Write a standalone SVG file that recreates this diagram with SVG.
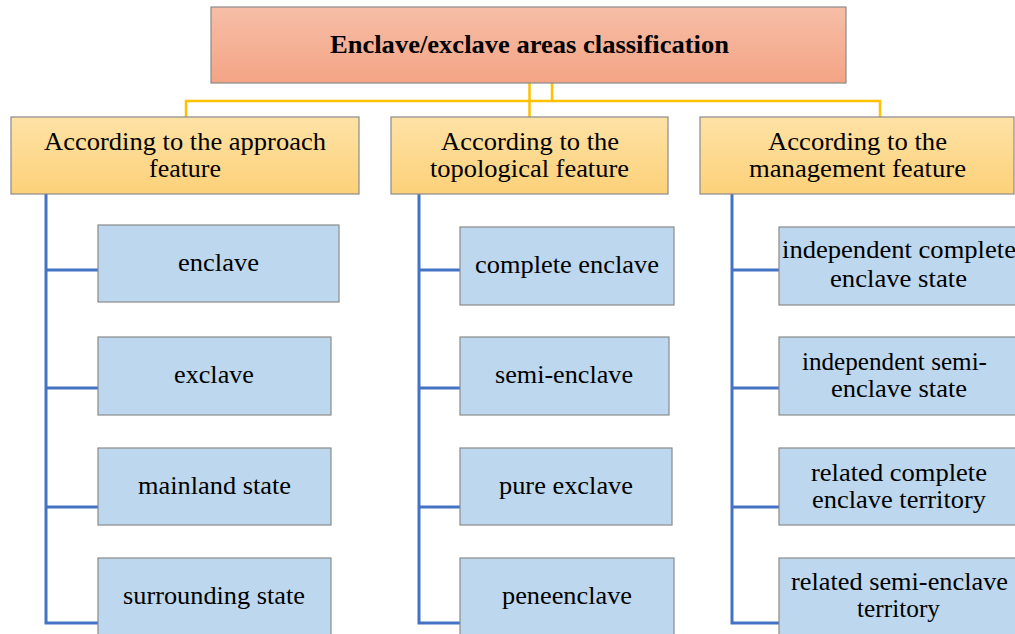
<svg xmlns="http://www.w3.org/2000/svg" width="1015" height="634" viewBox="0 0 1015 634">
<style>
text{font-family:'Liberation Serif','Times New Roman',serif;fill:#000;text-anchor:middle}
.t{font-size:25px;font-weight:bold}
.l2{font-size:25px}
.c{font-size:25px}
.box{stroke:#8a8a8a;stroke-width:1.2}
.child{fill:#bdd7ee}
.yl{fill:none;stroke:#ffc000;stroke-width:2.5}
.bl{fill:none;stroke:#4472c4;stroke-width:3}
</style>
<defs>
<linearGradient id="gT" x1="0" y1="0" x2="0" y2="1"><stop offset="0" stop-color="#f6bea7"/><stop offset="1" stop-color="#f4a485"/></linearGradient>
<linearGradient id="gL" x1="0" y1="0" x2="0" y2="1"><stop offset="0" stop-color="#fee2a6"/><stop offset="1" stop-color="#fcd179"/></linearGradient>
</defs>
<rect width="1015" height="634" fill="#fff"/>
<g id="connectors">
<path class="yl" d="M529.5 83V117M552 83V101M186 117V101H880V117"/>
<path class="bl" d="M46 194V623H98M46 270H98M46 388H98M46 507H98"/>
<path class="bl" d="M419 194V623H460M419 270H460M419 388H460M419 507H460"/>
<path class="bl" d="M732 194V623H779M732 270H779M732 388H779M732 507H779"/>
</g>
<g id="root"><rect class="box" x="211" y="7" width="635" height="76" fill="url(#gT)"/><text class="t" x="529.5" y="53" textLength="399" lengthAdjust="spacingAndGlyphs">Enclave/exclave areas classification</text></g>
<g id="approach"><rect class="box" x="11" y="117" width="348" height="77" fill="url(#gL)"/><text class="l2" x="185" y="150" textLength="282" lengthAdjust="spacingAndGlyphs">According to the approach</text><text class="l2" x="185" y="177" textLength="72" lengthAdjust="spacingAndGlyphs">feature</text></g>
<g id="topological"><rect class="box" x="391" y="117" width="277" height="77" fill="url(#gL)"/><text class="l2" x="530" y="150" textLength="178" lengthAdjust="spacingAndGlyphs">According to the</text><text class="l2" x="529.5" y="177" textLength="199" lengthAdjust="spacingAndGlyphs">topological feature</text></g>
<g id="management"><rect class="box" x="700" y="117" width="314" height="77" fill="url(#gL)"/><text class="l2" x="857.5" y="150" textLength="179" lengthAdjust="spacingAndGlyphs">According to the</text><text class="l2" x="857.5" y="177" textLength="217" lengthAdjust="spacingAndGlyphs">management feature</text></g>
<g id="enclave"><rect class="box child" x="98" y="225" width="241" height="77"/><text class="c" x="218.5" y="271" textLength="81" lengthAdjust="spacingAndGlyphs">enclave</text></g>
<g id="exclave"><rect class="box child" x="98" y="337" width="233" height="78"/><text class="c" x="214" y="383" textLength="80" lengthAdjust="spacingAndGlyphs">exclave</text></g>
<g id="mainland"><rect class="box child" x="98" y="448" width="233" height="77"/><text class="c" x="214.5" y="494" textLength="153" lengthAdjust="spacingAndGlyphs">mainland state</text></g>
<g id="surrounding"><rect class="box child" x="98" y="558" width="233" height="80"/><text class="c" x="214" y="604" textLength="182" lengthAdjust="spacingAndGlyphs">surrounding state</text></g>
<g id="complete-enclave"><rect class="box child" x="460" y="227" width="214" height="78"/><text class="c" x="567" y="273" textLength="184" lengthAdjust="spacingAndGlyphs">complete enclave</text></g>
<g id="semi-enclave"><rect class="box child" x="460" y="337" width="209" height="78"/><text class="c" x="564" y="383" textLength="138" lengthAdjust="spacingAndGlyphs">semi-enclave</text></g>
<g id="pure-exclave"><rect class="box child" x="460" y="448" width="212" height="77"/><text class="c" x="566" y="494" textLength="134" lengthAdjust="spacingAndGlyphs">pure exclave</text></g>
<g id="peneenclave"><rect class="box child" x="460" y="558" width="214" height="80"/><text class="c" x="567" y="604" textLength="130" lengthAdjust="spacingAndGlyphs">peneenclave</text></g>
<g id="indep-complete"><rect class="box child" x="779" y="227" width="240" height="78"/><text class="c" x="899" y="258" textLength="234" lengthAdjust="spacingAndGlyphs">independent complete</text><text class="c" x="898.5" y="287" textLength="137" lengthAdjust="spacingAndGlyphs">enclave state</text></g>
<g id="indep-semi"><rect class="box child" x="779" y="337" width="240" height="78"/><text class="c" x="894.5" y="370" textLength="185" lengthAdjust="spacingAndGlyphs">independent semi-</text><text class="c" x="899" y="397" textLength="136" lengthAdjust="spacingAndGlyphs">enclave state</text></g>
<g id="related-complete"><rect class="box child" x="779" y="448" width="240" height="77"/><text class="c" x="899" y="481" textLength="176" lengthAdjust="spacingAndGlyphs">related complete</text><text class="c" x="899" y="508" textLength="174" lengthAdjust="spacingAndGlyphs">enclave territory</text></g>
<g id="related-semi"><rect class="box child" x="779" y="558" width="240" height="80"/><text class="c" x="899.5" y="590" textLength="217" lengthAdjust="spacingAndGlyphs">related semi-enclave</text><text class="c" x="898.5" y="617" textLength="83" lengthAdjust="spacingAndGlyphs">territory</text></g>
</svg>
